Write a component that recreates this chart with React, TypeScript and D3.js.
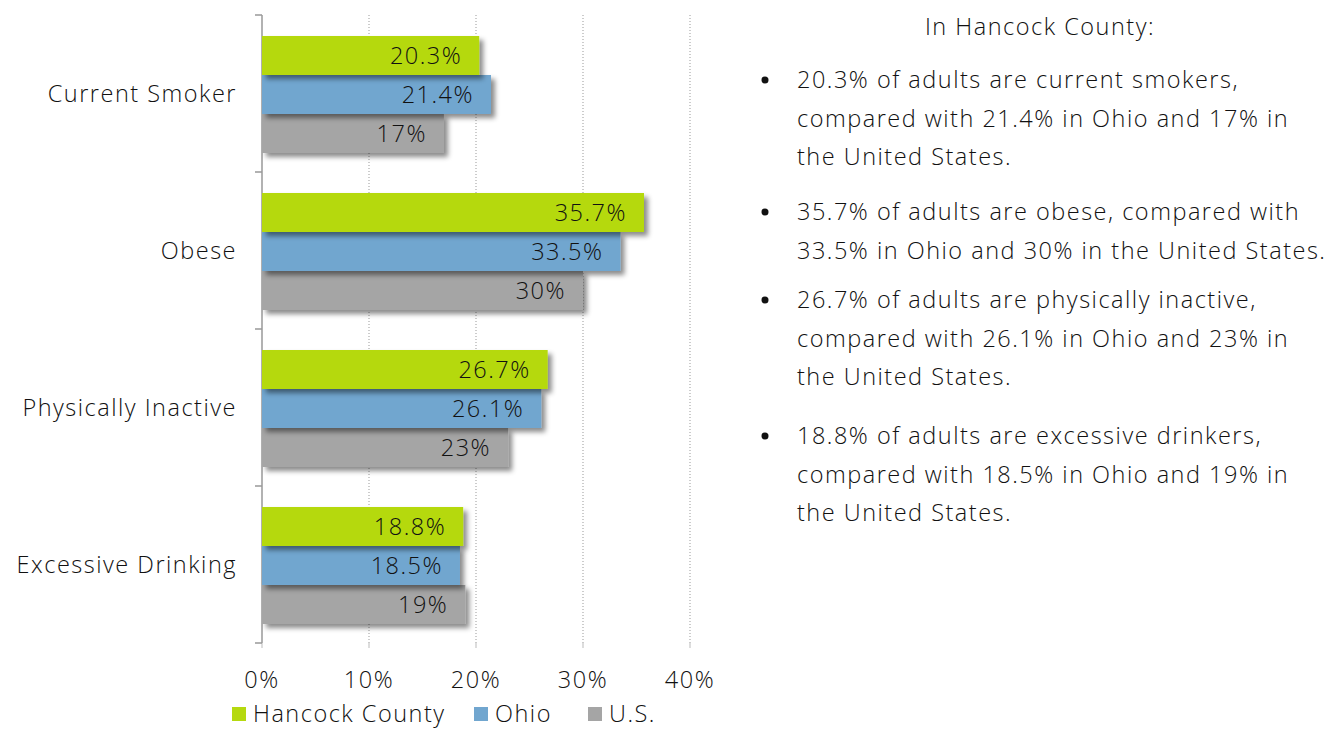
import React, { useEffect, useRef } from 'react';
import * as d3 from 'd3';

const categories = ['Current Smoker', 'Obese', 'Physically Inactive', 'Excessive Drinking'];
const seriesNames = ['Hancock County', 'Ohio', 'U.S.'];
const hancock = [20.3, 35.7, 26.7, 18.8];
const ohio = [21.4, 33.5, 26.1, 18.5];
const us = [17, 30, 23, 19];
const colors = ['#b5d90f', '#71a6cf', '#a5a5a5'];
const xTicks = [0, 10, 20, 30, 40];

const title = 'In Hancock County:';
const bullets = [
  ['20.3% of adults are current smokers,', 'compared with 21.4% in Ohio and 17% in', 'the United States.'],
  ['35.7% of adults are obese, compared with', '33.5% in Ohio and 30% in the United States.'],
  ['26.7% of adults are physically inactive,', 'compared with 26.1% in Ohio and 23% in', 'the United States.'],
  ['18.8% of adults are excessive drinkers,', 'compared with 18.5% in Ohio and 19% in', 'the United States.'],
];

const font = '"Open Sans", Roboto, sans-serif';

const App = () => {
  const svgRef = useRef<SVGSVGElement>(null);

  useEffect(() => {
    const svg = d3.select(svgRef.current);
    svg.selectAll('*').remove();

    const values = [hancock, ohio, us];
    const x = d3.scaleLinear().domain([0, 40]).range([262, 690]);
    const y = d3.scaleBand().domain(categories).range([15, 643]);
    const inner = d3.scaleBand().domain(seriesNames).range([21, 157 - 19]);

    const defs = svg.append('defs');
    const f = defs.append('filter').attr('id', 'shadow').attr('x', '-10%').attr('y', '-20%').attr('width', '130%').attr('height', '160%');
    f.append('feDropShadow').attr('dx', 4).attr('dy', 4).attr('stdDeviation', 2.5).attr('flood-color', '#000').attr('flood-opacity', 0.45);

    // gridlines
    svg.append('g').selectAll('line').data(xTicks.slice(1)).enter().append('line')
      .attr('x1', d => x(d)).attr('x2', d => x(d)).attr('y1', 15).attr('y2', 643)
      .attr('stroke', '#999').attr('stroke-dasharray', '1,2').attr('stroke-width', 1);

    // bottom tick marks
    svg.append('g').selectAll('line').data(xTicks).enter().append('line')
      .attr('x1', d => x(d)).attr('x2', d => x(d)).attr('y1', 643).attr('y2', 648)
      .attr('stroke', '#bbb');

    // left axis
    svg.append('line').attr('x1', 262).attr('x2', 262).attr('y1', 15).attr('y2', 643)
      .attr('stroke', '#999').attr('stroke-width', 1.5);
    const bounds = [0, 1, 2, 3, 4].map(i => 15 + i * y.step());
    svg.append('g').selectAll('line').data(bounds).enter().append('line')
      .attr('x1', 255).attr('x2', 262).attr('y1', d => d).attr('y2', d => d)
      .attr('stroke', '#999').attr('stroke-width', 1.5);

    const groups = svg.append('g').selectAll('g').data(categories).enter().append('g')
      .attr('transform', d => `translate(0,${y(d)})`);

    // draw bars bottom to top so upper bar's shadow overlaps the next
    [2, 1, 0].forEach(s => {
      groups.append('rect')
        .attr('x', x(0))
        .attr('y', () => inner(seriesNames[s])!)
        .attr('width', (_, i) => x(values[s][i]) - x(0))
        .attr('height', inner.bandwidth())
        .attr('fill', colors[s])
        .attr('filter', 'url(#shadow)');
    });
    [0, 1, 2].forEach(s => {
      groups.append('text')
        .attr('x', (_, i) => x(values[s][i]) - 17)
        .attr('y', () => inner(seriesNames[s])! + inner.bandwidth() / 2)
        .attr('dy', '0.36em')
        .attr('text-anchor', 'end')
        .attr('fill', '#111')
        .text((_, i) => `${values[s][i]}%`);
    });

    // category labels
    svg.append('g').selectAll('text').data(categories).enter().append('text')
      .attr('x', 237).attr('y', d => y(d)! + y.bandwidth() / 2)
      .attr('dy', '0.36em').attr('text-anchor', 'end')
      .attr('fill', '#111')
      .text(d => d);

    // x tick labels
    svg.append('g').selectAll('text').data(xTicks).enter().append('text')
      .attr('x', d => x(d)).attr('y', 680).attr('dy', '0.36em').attr('text-anchor', 'middle')
      .attr('fill', '#111')
      .text(d => `${d}%`);

    // legend
    const legendX = [232, 474, 588];
    const lg = svg.append('g').selectAll('g').data(seriesNames).enter().append('g')
      .attr('transform', (_, i) => `translate(${legendX[i]},707)`);
    lg.append('rect').attr('width', 14).attr('height', 14).attr('fill', (_, i) => colors[i]);
    lg.append('text').attr('x', 21).attr('y', 7).attr('dy', '0.36em')
      .attr('fill', '#111').text(d => d);

    // right-side text
    svg.append('text').attr('x', 1040).attr('y', 27).attr('dy', '0.36em').attr('text-anchor', 'middle')
      .attr('fill', '#111').text(title);
    const starts = [80, 212, 300, 436];
    bullets.forEach((lines, b) => {
      svg.append('circle').attr('cx', 765).attr('cy', starts[b]).attr('r', 3.5).attr('fill', '#111');
      lines.forEach((line, j) => {
        svg.append('text').attr('x', 797).attr('y', starts[b] + j * 38.5).attr('dy', '0.36em')
          .attr('fill', '#111').text(line);
      });
    });
  }, []);

  return (
    <svg ref={svgRef} width={1333} height={729}
      style={{ position: 'absolute', left: 0, top: 0, fontFamily: font, fontWeight: 300, fontSize: 23.5, letterSpacing: 1.5 }} />
  );
};

export default App;
